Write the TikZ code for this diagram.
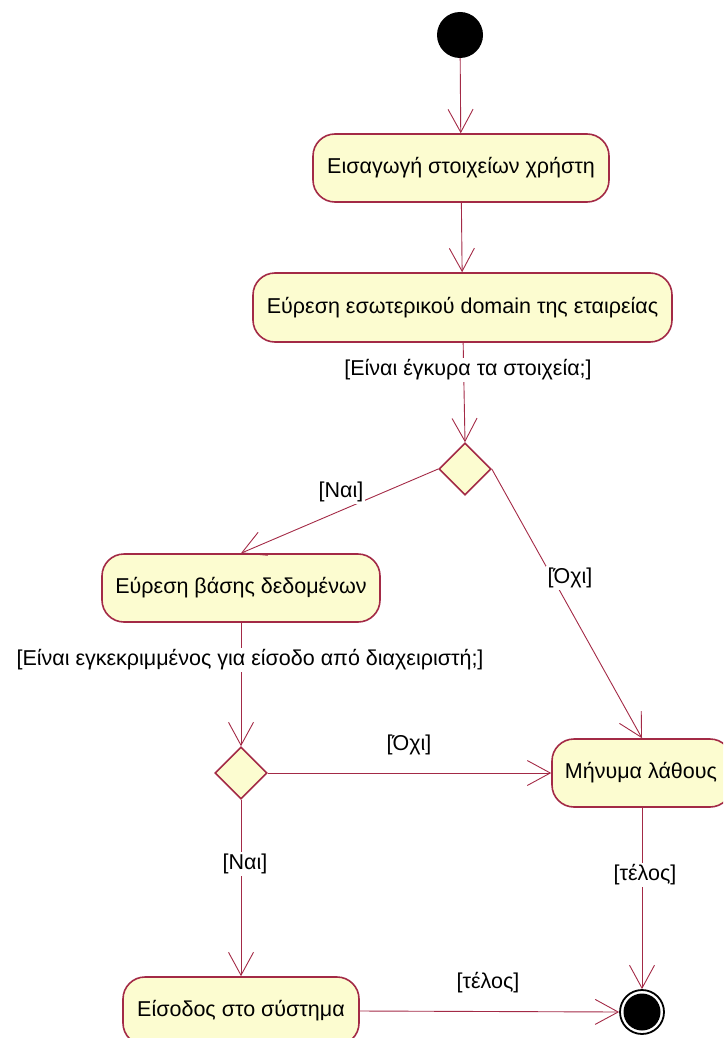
\documentclass[tikz,border=0pt]{standalone}
\usepackage{fontspec}
\setmainfont{Liberation Sans}
\usetikzlibrary{arrows.meta,shapes.geometric}

\definecolor{umlline}{RGB}{163,42,70}
\definecolor{umlfill}{RGB}{252,252,208}

\tikzset{
  action/.style={draw=umlline, fill=umlfill, line width=1.6pt,
    rounded corners=22pt, inner sep=0pt, font=\fontsize{21.5}{25}\selectfont},
  decision/.style={draw=umlline, fill=umlfill, line width=1.6pt, diamond,
    minimum width=52pt, minimum height=52pt, inner sep=0pt},
  flow/.style={draw=umlline, line width=0.9pt,
    -{Straight Barb[length=23pt,width=25pt,line width=0.9pt]}},
  guard/.style={fill=white, inner sep=1.5pt, font=\fontsize{21.5}{25}\selectfont}
}

\begin{document}
\begin{tikzpicture}[x=1pt, y=-1pt]
  \useasboundingbox (0,0) rectangle (723,1038);
  \clip (0,0) rectangle (723,1038);

  % initial node
  \node[circle, fill=black, minimum size=46pt, inner sep=0pt] (start) at (460,35) {};

  % actions
  \node[action, minimum width=296pt, minimum height=68pt] (input)  at (461,168)   {Εισαγωγή στοιχείων χρήστη};
  \node[action, minimum width=419pt, minimum height=69pt] (domain) at (462.5,307.5) {Εύρεση εσωτερικού domain της εταιρείας};
  \node[action, minimum width=278pt, minimum height=68pt] (db)     at (241,588)   {Εύρεση βάσης δεδομένων};
  \node[action, minimum width=180pt, minimum height=68pt] (err)    at (642,773)   {\hspace*{-2pt}Μήνυμα λάθους};
  \node[action, minimum width=236pt, minimum height=68pt] (login)  at (241,1011)  {Είσοδος στο σύστημα};

  % decisions
  \node[decision] (valid)    at (465,469) {};
  \node[decision] (approved) at (241,773) {};

  % final node
  \node[circle, draw=black, line width=1.8pt, fill=white, minimum size=44pt, inner sep=0pt] (final) at (642,1012) {};
  \fill[black] (final.center) circle (18.5pt);

  % control flows
  \draw[flow] (start) -- (input);
  \draw[flow] (input) -- (domain);
  \draw[flow] (domain) -- (valid.north);
  \draw[flow] (valid.west) -- (db.north);
  \draw[flow] (valid.east) -- (err.north);
  \draw[flow] (db) -- (approved.north);
  \draw[flow] (approved.east) -- (err.west);
  \draw[flow] (approved.south) -- (login.north);
  \draw[flow] (err) -- (final.north);
  \draw[flow] (login.east) -- (final.west);

  % guards
  \node[guard] (g1) at (468,370) {[Είναι έγκυρα τα στοιχεία;]};
  \node[guard] (g2) at (341,492) {[Ναι]};
  \node[guard] (g3) at (570,578) {[Όχι]};
  \node[guard] (g4) at (250,660) {[Είναι εγκεκριμμένος για είσοδο από διαχειριστή;]};
  \node[guard] (g5) at (409,745) {[Όχι]};
  \node[guard] (g6) at (245,864) {[Ναι]};
  \node[guard] (g7) at (645,875) {[τέλος]};
  \node[guard] (g8) at (488,983) {[τέλος]};
\end{tikzpicture}
\end{document}
